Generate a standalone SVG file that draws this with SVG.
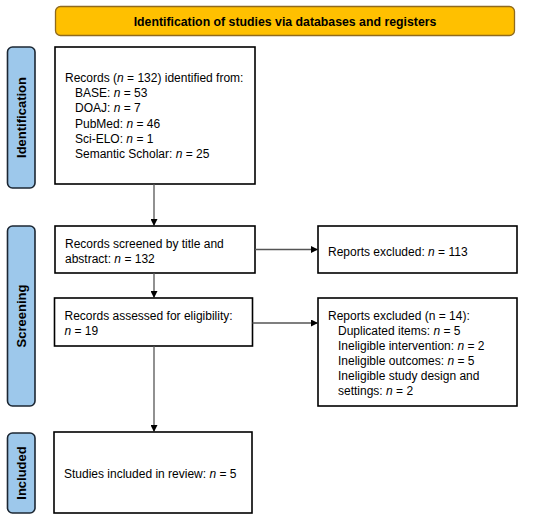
<svg xmlns="http://www.w3.org/2000/svg" width="550" height="519" viewBox="0 0 550 519">
<defs>
<marker id="ah" markerWidth="7" markerHeight="7" refX="6" refY="3.5" orient="auto" markerUnits="userSpaceOnUse">
<path d="M0,0 L7,3.5 L0,7 Z" fill="#000"/>
</marker>
<style>
.box{fill:#fff;stroke:#000;stroke-width:1.6}
.side{fill:#9DC8EB;stroke:#1C2733;stroke-width:1.6}
.ban{fill:#FFC000;stroke:#8F6A1E;stroke-width:1.3}
.t{font-family:"Liberation Sans",Arial,sans-serif;font-size:12px;fill:#000}
.b{font-family:"Liberation Sans",Arial,sans-serif;font-weight:bold;fill:#000}
.c{stroke:#555;stroke-width:1.3;fill:none}
</style>
</defs>
<rect width="550" height="519" fill="#fff"/>
<g id="banner">
<rect class="ban" x="55.5" y="6.5" width="459" height="29" rx="5"/>
<text class="b" x="285" y="25.5" font-size="12.3" text-anchor="middle">Identification of studies via databases and registers</text>
</g>
<g id="side-identification">
<rect class="side" x="7.5" y="47" width="27.5" height="141" rx="5"/>
<text class="b" font-size="13" transform="translate(26,117.5) rotate(-90)" text-anchor="middle">Identification</text>
</g>
<g id="side-screening">
<rect class="side" x="7.5" y="226" width="27.5" height="180" rx="5"/>
<text class="b" font-size="13" transform="translate(26,316) rotate(-90)" text-anchor="middle">Screening</text>
</g>
<g id="side-included">
<rect class="side" x="7.5" y="433" width="27.5" height="80" rx="5"/>
<text class="b" font-size="13" transform="translate(26,473) rotate(-90)" text-anchor="middle">Included</text>
</g>
<g id="records-identified">
<rect class="box" x="55" y="47" width="200" height="137"/>
<text class="t" x="65" y="81.5">Records (<tspan font-style="italic">n</tspan> = 132) identified from:</text>
<text class="t" x="75" y="97">BASE: <tspan font-style="italic">n</tspan> = 53</text>
<text class="t" x="75" y="112">DOAJ: <tspan font-style="italic">n</tspan> = 7</text>
<text class="t" x="75" y="127.5">PubMed: <tspan font-style="italic">n</tspan> = 46</text>
<text class="t" x="75" y="142.5">Sci-ELO: <tspan font-style="italic">n</tspan> = 1</text>
<text class="t" x="75" y="158">Semantic Scholar: <tspan font-style="italic">n</tspan> = 25</text>
</g>
<g id="records-screened">
<rect class="box" x="55" y="226" width="200" height="47"/>
<text class="t" x="65" y="247.5">Records screened by title and</text>
<text class="t" x="65" y="262.5">abstract: <tspan font-style="italic">n</tspan> = 132</text>
</g>
<g id="reports-excluded-1">
<rect class="box" x="318" y="226" width="199" height="47"/>
<text class="t" x="328" y="255.5">Reports excluded: <tspan font-style="italic">n</tspan> = 113</text>
</g>
<g id="records-assessed">
<rect class="box" x="54.5" y="298" width="198" height="48"/>
<text class="t" x="64.5" y="319.5">Records assessed for eligibility:</text>
<text class="t" x="64.5" y="334.5"><tspan font-style="italic">n</tspan> = 19</text>
</g>
<g id="reports-excluded-2">
<rect class="box" x="318" y="298" width="199" height="108"/>
<text class="t" x="328" y="319.5">Reports excluded (n = 14):</text>
<text class="t" x="338" y="334.5">Duplicated items: <tspan font-style="italic">n</tspan> = 5</text>
<text class="t" x="338" y="349.5">Ineligible intervention: <tspan font-style="italic">n</tspan> = 2</text>
<text class="t" x="338" y="365">Ineligible outcomes: <tspan font-style="italic">n</tspan> = 5</text>
<text class="t" x="338" y="380">Ineligible study design and</text>
<text class="t" x="338" y="395">settings: <tspan font-style="italic">n</tspan> = 2</text>
</g>
<g id="studies-included">
<rect class="box" x="54" y="432" width="198" height="81"/>
<text class="t" x="64" y="477.5">Studies included in review: <tspan font-style="italic">n</tspan> = 5</text>
</g>
<g id="connectors">
<line class="c" x1="154" y1="184" x2="154" y2="225" marker-end="url(#ah)"/>
<line class="c" x1="154" y1="273" x2="154" y2="297" marker-end="url(#ah)"/>
<line class="c" x1="154" y1="346" x2="154" y2="431" marker-end="url(#ah)"/>
<line class="c" x1="255" y1="249.5" x2="317" y2="249.5" marker-end="url(#ah)"/>
<line class="c" x1="252.5" y1="323" x2="317" y2="323" marker-end="url(#ah)"/>
</g>
</svg>
